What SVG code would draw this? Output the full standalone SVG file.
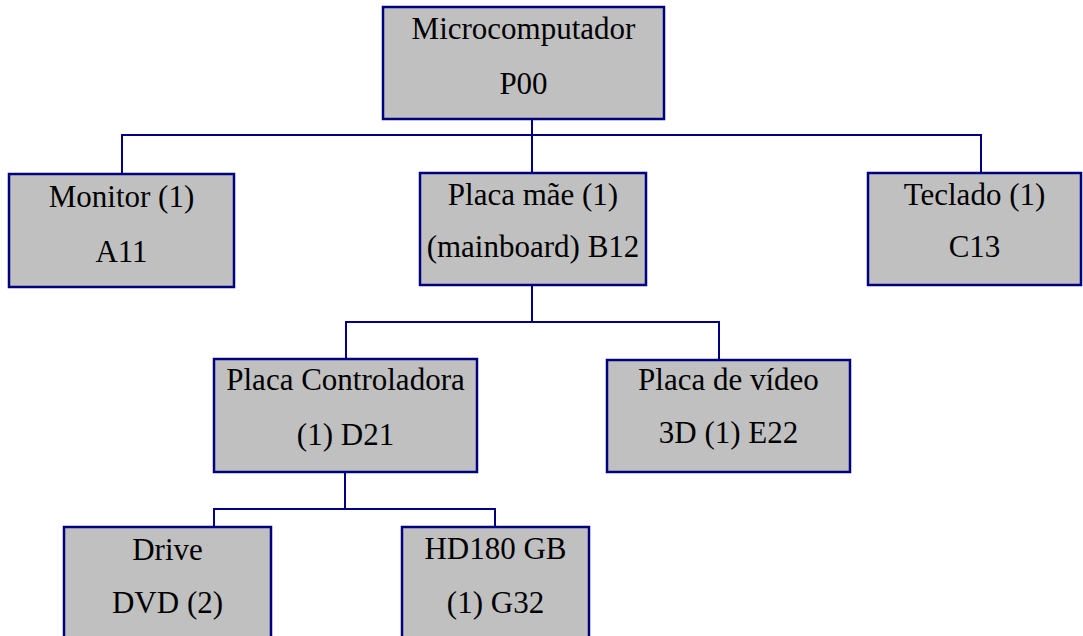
<svg xmlns="http://www.w3.org/2000/svg" width="1083" height="636" viewBox="0 0 1083 636">
<style>
.box{fill:#C0C0C0;stroke:#000080;stroke-width:2.5}
.c{fill:none;stroke:#000080;stroke-width:2}
</style>
<rect width="1083" height="636" fill="#fff"/>
<g id="connectors">
<path class="c" d="M532 119V173"/>
<path class="c" d="M122 174V135H981V173"/>
<path class="c" d="M532 285V322"/>
<path class="c" d="M346 359V322H719V360"/>
<path class="c" d="M345 472V509"/>
<path class="c" d="M214 527V509H495V527"/>
</g>
<g id="P00"><rect class="box" x="383" y="7" width="281" height="112"/><text x="523.5" y="39" font-family="Liberation Serif" font-size="31" text-anchor="middle">Microcomputador</text><text x="523.5" y="94" font-family="Liberation Serif" font-size="31" text-anchor="middle">P00</text></g>
<g id="A11"><rect class="box" x="9" y="174" width="225" height="113"/><text x="121.5" y="207" font-family="Liberation Serif" font-size="31" text-anchor="middle">Monitor (1)</text><text x="121.5" y="262" font-family="Liberation Serif" font-size="31" text-anchor="middle">A11</text></g>
<g id="B12"><rect class="box" x="420" y="173" width="226" height="112"/><text x="533" y="205" font-family="Liberation Serif" font-size="31" text-anchor="middle">Placa mãe (1)</text><text x="533" y="257" font-family="Liberation Serif" font-size="31" text-anchor="middle">(mainboard) B12</text></g>
<g id="C13"><rect class="box" x="868" y="173" width="213" height="112"/><text x="974.5" y="205" font-family="Liberation Serif" font-size="31" text-anchor="middle">Teclado (1)</text><text x="974.5" y="257" font-family="Liberation Serif" font-size="31" text-anchor="middle">C13</text></g>
<g id="D21"><rect class="box" x="214" y="359" width="263" height="113"/><text x="345.5" y="390" font-family="Liberation Serif" font-size="31" text-anchor="middle">Placa Controladora</text><text x="345.5" y="445" font-family="Liberation Serif" font-size="31" text-anchor="middle">(1) D21</text></g>
<g id="E22"><rect class="box" x="607" y="360" width="243" height="112"/><text x="728.5" y="390" font-family="Liberation Serif" font-size="31" text-anchor="middle">Placa de vídeo</text><text x="728.5" y="443" font-family="Liberation Serif" font-size="31" text-anchor="middle">3D (1) E22</text></g>
<g id="DVD"><rect class="box" x="64" y="527" width="207" height="120"/><text x="167.5" y="560" font-family="Liberation Serif" font-size="31" text-anchor="middle">Drive</text><text x="167.5" y="613" font-family="Liberation Serif" font-size="31" text-anchor="middle">DVD (2)</text></g>
<g id="G32"><rect class="box" x="402" y="527" width="187" height="120"/><text x="495.5" y="559" font-family="Liberation Serif" font-size="31" text-anchor="middle">HD180 GB</text><text x="495.5" y="613" font-family="Liberation Serif" font-size="31" text-anchor="middle">(1) G32</text></g>
</svg>
